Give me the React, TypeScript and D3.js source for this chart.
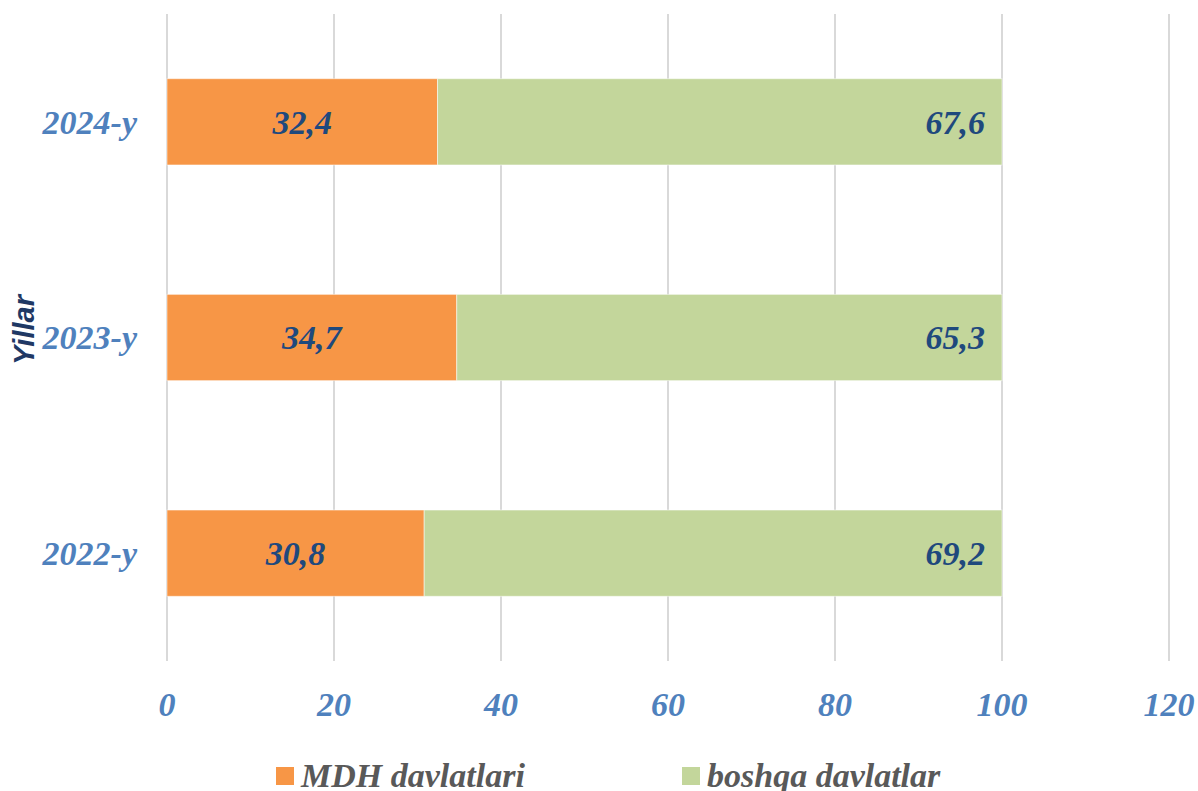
import React from "react";
import * as d3 from "d3";

const years = ["2024-y", "2023-y", "2022-y"];
const mdh = [32.4, 34.7, 30.8];
const boshqa = [67.6, 65.3, 69.2];
const xTicks = [0, 20, 40, 60, 80, 100, 120];
const seriesNames = ["MDH davlatlari", "boshqa davlatlar"];
const seriesColors = ["#F79646", "#C3D69B"];

const W = 1198;
const H = 791;
const serif = "'Liberation Serif', 'Times New Roman', serif";

export default function App() {
  const x = d3.scaleLinear().domain([0, 120]).range([167, 1169]);
  const y = d3.scaleBand().domain(years).range([14, 661]).paddingInner(0.6).paddingOuter(0.3);
  const fmt = (v: number) => v.toFixed(1).replace(".", ",");
  const bw = y.bandwidth();

  return (
    <div style={{ position: "fixed", left: 0, top: 0 }}>
      <svg width={W} height={H} style={{ display: "block", background: "#fff" }}>
        {xTicks.map((t) => (
          <line key={"g" + t} x1={x(t)} x2={x(t)} y1={14} y2={661} stroke="#D9D9D9" strokeWidth={2} />
        ))}
        {years.map((yr, i) => {
          const y0 = y(yr)!;
          return (
            <g key={yr}>
              <rect x={x(0)} y={y0} width={x(mdh[i]) - x(0)} height={bw} fill={seriesColors[0]} stroke="#fff" strokeOpacity={0.5} strokeWidth={1} />
              <rect x={x(mdh[i])} y={y0} width={x(mdh[i] + boshqa[i]) - x(mdh[i])} height={bw} fill={seriesColors[1]} stroke="#fff" strokeOpacity={0.5} strokeWidth={1} />
              <text x={(x(0) + x(mdh[i])) / 2} y={y0 + bw / 2} dy="0.35em" textAnchor="middle" fontFamily={serif} fontWeight="bold" fontStyle="italic" fontSize={34} fill="#1F497D">
                {fmt(mdh[i])}
              </text>
              <text x={x(mdh[i] + boshqa[i]) - 17} y={y0 + bw / 2} dy="0.35em" textAnchor="end" fontFamily={serif} fontWeight="bold" fontStyle="italic" fontSize={34} fill="#1F497D">
                {fmt(boshqa[i])}
              </text>
              <text x={137} y={y0 + bw / 2} dy="0.35em" textAnchor="end" fontFamily={serif} fontWeight="bold" fontStyle="italic" fontSize={34} fill="#4F81BD">
                {yr}
              </text>
            </g>
          );
        })}
        {xTicks.map((t) => (
          <text key={"t" + t} x={x(t)} y={716} textAnchor="middle" fontFamily={serif} fontWeight="bold" fontStyle="italic" fontSize={34} fill="#4F81BD">
            {t}
          </text>
        ))}
        <text transform="translate(34,330) rotate(-90)" textAnchor="middle" fontFamily="'Liberation Sans', Arial, sans-serif" fontWeight="bold" fontStyle="italic" fontSize={29} fill="#1F3864">
          Yillar
        </text>
        {seriesNames.map((n, i) => {
          const lx = i === 0 ? 276 : 682;
          return (
            <g key={n}>
              <rect x={lx} y={767} width={18} height={18} fill={seriesColors[i]} />
              <text x={lx + 25} y={787} fontFamily={serif} fontWeight="bold" fontStyle="italic" fontSize={34} fill="#595959">
                {n}
              </text>
            </g>
          );
        })}
      </svg>
    </div>
  );
}
